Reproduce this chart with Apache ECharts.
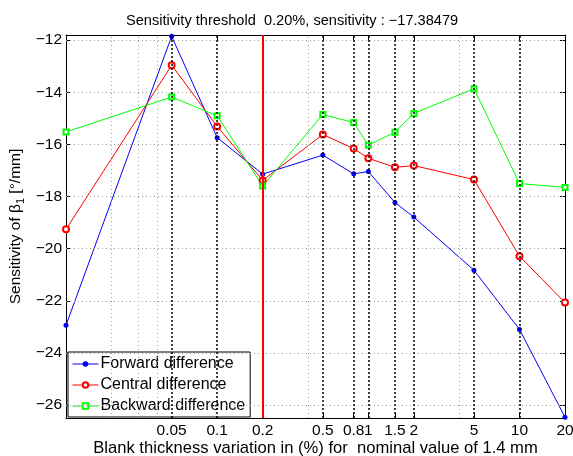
<!DOCTYPE html>
<html>
<head>
<meta charset="utf-8">
<script src="https://cdn.jsdelivr.net/npm/echarts@6/dist/echarts.min.js"></script>
<style>
  html, body { margin: 0; padding: 0; background: #fff; }
  #chart { width: 573px; height: 456px; }
</style>
</head>
<body>
<div id="chart"></div>
<script>
// thickness variation (%) and sensitivities
const xValues = [0.01, 0.05, 0.1, 0.2, 0.5, 0.8, 1, 1.5, 2, 5, 10, 20];
const forwardDiff = [-22.94, -11.85, -15.74, -17.14, -16.41, -17.13, -17.04, -18.23, -18.79, -20.83, -23.10, -26.47];
const centralDiff = [-19.26, -12.96, -15.31, -17.38, -15.62, -16.16, -16.53, -16.88, -16.81, -17.35, -20.29, -22.07];
const backwardDiff = [-15.52, -14.18, -14.90, -17.60, -14.85, -15.16, -16.03, -15.53, -14.81, -13.86, -17.50, -17.65];

// axis ticks / reference lines
const xTickValues = [0.05, 0.1, 0.2, 0.5, 0.8, 1, 1.5, 2, 5, 10, 20];
const xDottedLines = [0.05, 0.1, 0.5, 0.8, 1, 1.5, 2, 5, 10];
const xGridLines = [0.02, 0.03, 0.04, 0.4, 4];
const yTickValues = [-26, -24, -22, -20, -18, -16, -14, -12];
const threshold = 0.2;

const FONT = 'Liberation Sans, Arial, Helvetica, sans-serif';
const fmtNum = v => {
  const s = String(+v.toPrecision(6));
  return s.replace('-', '\u2212');
};
const pairs = ys => xValues.map((x, i) => [x, ys[i]]);

const chart = echarts.init(document.getElementById('chart'));

chart.setOption({
  animation: false,
  backgroundColor: '#fff',
  textStyle: { fontFamily: FONT },
  title: {
    text: 'Sensitivity threshold  0.20%, sensitivity : \u221217.38479',
    left: 121,
    top: 8,
    textStyle: { fontFamily: FONT, fontSize: 14.6, fontWeight: 'normal', color: '#000' }
  },
  grid: { left: 66, right: 8, top: 35, bottom: 38, outerBoundsMode: 'none' },
  legend: {
    orient: 'vertical',
    left: 68,
    top: 352,
    padding: [4, 5, 3, 4],
    itemGap: 5,
    itemWidth: 26,
    itemHeight: 7,
    backgroundColor: '#fff',
    borderColor: '#000',
    borderWidth: 1,
    borderRadius: 0,
    lineStyle: { width: 1 },
    textStyle: { fontFamily: FONT, fontSize: 16, color: '#000', padding: [0, 0, 0, -3] },
    data: ['Forward difference', 'Central difference', 'Backward difference']
  },
  xAxis: [{
    type: 'log',
    min: 0.01,
    max: 20,
    name: 'Blank thickness variation in (%) for  nominal value of 1.4 mm',
    nameLocation: 'middle',
    nameGap: 22,
    nameMoveOverlap: false,
    nameTextStyle: { fontFamily: FONT, fontSize: 16.6, color: '#000' },
    axisLine: { lineStyle: { color: '#000', width: 1 } },
    axisTick: { inside: true, length: 5, customValues: xTickValues, lineStyle: { color: '#000' } },
    axisLabel: {
      customValues: xTickValues,
      formatter: fmtNum,
      margin: 5,
      fontFamily: FONT, fontSize: 15.5, color: '#000'
    },
    splitLine: { show: false },
    minorTick: { show: false }
  }, {
    type: 'log',
    min: 0.01,
    max: 20,
    position: 'top',
    axisLine: { lineStyle: { color: '#000', width: 1 } },
    axisTick: { inside: true, length: 5, customValues: xTickValues, lineStyle: { color: '#000' } },
    axisLabel: { show: false },
    splitLine: { show: false }
  }],
  yAxis: [{
    type: 'value',
    min: -26.5,
    max: -11.8,
    name: 'Sensitivity of \u03b2{sub|1} [\u00b0/mm]',
    nameLocation: 'middle',
    nameGap: 40,
    nameMoveOverlap: false,
    nameTextStyle: {
      fontFamily: FONT, fontSize: 15.5, color: '#000',
      rich: { sub: { fontFamily: FONT, fontSize: 11, color: '#000', padding: [9, 0, 0, 0] } }
    },
    axisLine: { show: true, lineStyle: { color: '#000', width: 1 } },
    axisTick: { show: true, inside: true, length: 5, customValues: yTickValues, lineStyle: { color: '#000' } },
    axisLabel: {
      customValues: yTickValues,
      formatter: fmtNum,
      margin: 4,
      fontFamily: FONT, fontSize: 15.5, color: '#000'
    },
    splitLine: { show: false }
  }, {
    type: 'value',
    min: -26.5,
    max: -11.8,
    position: 'right',
    axisLine: { show: true, lineStyle: { color: '#000', width: 1 } },
    axisTick: { show: true, inside: true, length: 5, customValues: yTickValues, lineStyle: { color: '#000' } },
    axisLabel: { show: false },
    splitLine: { show: false }
  }],
  series: [{
    // reference lines only
    type: 'line',
    data: [],
    silent: true,
    markLine: {
      silent: true,
      symbol: 'none',
      label: { show: false },
      animation: false,
      data: [
        ...yTickValues.map(v => ({ yAxis: v, lineStyle: { color: '#a0a0a0', width: 1, type: [1, 3] } })),
        ...xGridLines.map(v => ({ xAxis: v, lineStyle: { color: '#a0a0a0', width: 1, type: [1, 3] } })),
        ...xDottedLines.map(v => ({ xAxis: v, lineStyle: { color: '#000', width: 1.5, type: [2, 2] } }))
      ]
    }
  }, {
    name: 'Forward difference',
    type: 'line',
    data: pairs(forwardDiff),
    symbol: 'circle',
    symbolSize: 5,
    color: '#0000ff',
    lineStyle: { width: 1, color: '#0000ff' },
    itemStyle: { color: '#0000ff' },
    z: 3
  }, {
    name: 'Central difference',
    type: 'line',
    data: pairs(centralDiff),
    symbol: 'emptyCircle',
    symbolSize: 6,
    color: '#ff0000',
    lineStyle: { width: 1, color: '#ff0000' },
    itemStyle: { color: '#ff0000', borderWidth: 1 },
    z: 3
  }, {
    name: 'Backward difference',
    type: 'line',
    data: pairs(backwardDiff),
    symbol: 'emptyRect',
    symbolSize: 5,
    color: '#00ff00',
    lineStyle: { width: 1, color: '#00ff00' },
    itemStyle: { color: '#00ff00', borderWidth: 1 },
    z: 3,
    markLine: {
      silent: true,
      symbol: 'none',
      label: { show: false },
      animation: false,
      data: [{ xAxis: threshold, lineStyle: { color: '#ff0000', width: 2, type: 'solid' } }]
    }
  }]
});
</script>
</body>
</html>
